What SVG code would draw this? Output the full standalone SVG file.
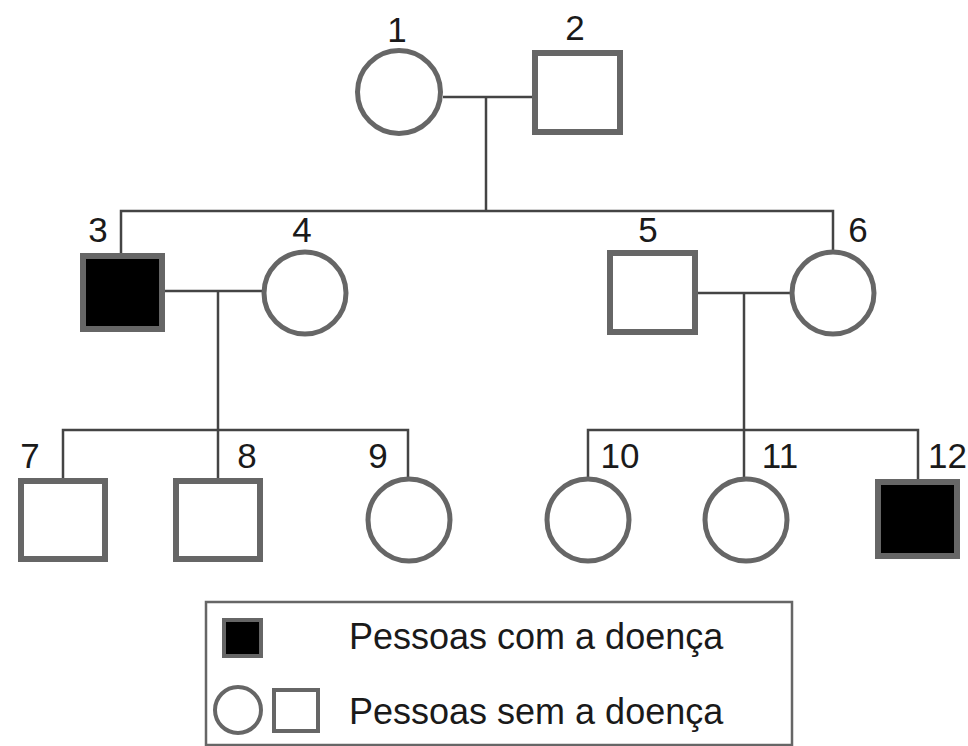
<svg xmlns="http://www.w3.org/2000/svg" width="968" height="746" viewBox="0 0 968 746">
<style>
.sym{fill:#fff;stroke:#666;stroke-width:6}
.aff{fill:#000;stroke:#666;stroke-width:6}
.circ{fill:#fff;stroke:#666;stroke-width:5}
.ln{stroke:#444;stroke-width:2.5;fill:none}
text{font-family:"Liberation Sans",Arial,sans-serif;fill:#1a1a1a}
.num{font-size:35px;text-anchor:middle}
.leg{font-size:36px}
</style>
<rect width="968" height="746" fill="#fff"/>
<g id="connectors">
<line class="ln" x1="443" y1="97" x2="532" y2="97"/>
<line class="ln" x1="486" y1="97" x2="486" y2="211"/>
<polyline class="ln" points="121,253 121,211 833,211 833,250"/>
<line class="ln" x1="165" y1="291" x2="262" y2="291"/>
<line class="ln" x1="218" y1="291" x2="218" y2="479"/>
<line class="ln" x1="698" y1="293" x2="790" y2="293"/>
<line class="ln" x1="744" y1="293" x2="744" y2="478"/>
<polyline class="ln" points="63,479 63,430 408,430 408,478"/>
<polyline class="ln" points="588,478 588,430 918,430 918,480"/>
</g>
<g id="n1"><circle class="circ" cx="399" cy="92" r="41.5"/><text class="num" x="397" y="42">1</text></g>
<g id="n2"><rect class="sym" x="535" y="53" width="85" height="79"/><text class="num" x="575" y="40">2</text></g>
<g id="n3"><rect class="aff" x="83" y="256" width="79" height="73"/><text class="num" x="98" y="242">3</text></g>
<g id="n4"><circle class="circ" cx="305" cy="293" r="41"/><text class="num" x="302" y="242">4</text></g>
<g id="n5"><rect class="sym" x="610" y="253" width="85" height="79"/><text class="num" x="648" y="242">5</text></g>
<g id="n6"><circle class="circ" cx="833" cy="293" r="41"/><text class="num" x="858" y="242">6</text></g>
<g id="n7"><rect class="sym" x="21" y="481" width="84" height="78"/><text class="num" x="30" y="468">7</text></g>
<g id="n8"><rect class="sym" x="176" y="481" width="84" height="78"/><text class="num" x="247" y="468">8</text></g>
<g id="n9"><circle class="circ" cx="409" cy="520" r="41"/><text class="num" x="378" y="468">9</text></g>
<g id="n10"><circle class="circ" cx="588" cy="520" r="41"/><text class="num" x="620" y="468">10</text></g>
<g id="n11"><circle class="circ" cx="746" cy="520" r="41"/><text class="num" x="780" y="468">11</text></g>
<g id="n12"><rect class="aff" x="878" y="482" width="79" height="74"/><text x="928" y="468" font-size="35">12</text></g>
<g id="legend">
<rect x="206" y="602" width="586" height="143" fill="none" stroke="#666" stroke-width="2.5"/>
<rect x="224" y="620" width="37" height="36" fill="#000" stroke="#666" stroke-width="4"/>
<text class="leg" x="349" y="649">Pessoas com a doença</text>
<circle cx="238" cy="710" r="23" fill="#fff" stroke="#666" stroke-width="4"/>
<rect x="274" y="690" width="44" height="41" fill="#fff" stroke="#666" stroke-width="4"/>
<text class="leg" x="349" y="724">Pessoas sem a doença</text>
</g>
</svg>
